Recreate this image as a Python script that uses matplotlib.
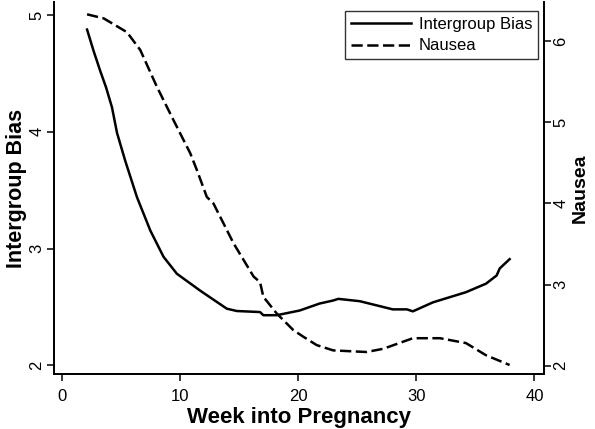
import numpy as np
import matplotlib
matplotlib.use("Agg")
import matplotlib.pyplot as plt

plt.rcParams['font.family'] = ['Liberation Sans', 'DejaVu Sans']

# intergroup bias (left axis)
bias_week = [2.09, 2.65, 3.21, 3.7, 4.2, 4.63, 5.33, 6.32, 7.45, 8.57, 9.7,
             11.68, 13.93, 14.78, 16.75, 17.03, 18.16, 20.1, 21.8, 22.95, 23.38, 25.2,
             28.0, 29.2, 29.7, 31.4, 34.2, 35.9, 36.8, 37.06, 37.9]
bias = [4.875, 4.69, 4.52, 4.38, 4.21, 3.99, 3.75, 3.44, 3.155, 2.93, 2.785,
        2.64, 2.486, 2.466, 2.457, 2.43, 2.43, 2.47, 2.53, 2.556, 2.57, 2.55,
        2.48, 2.48, 2.463, 2.54, 2.627, 2.70, 2.77, 2.83, 2.91]

# nausea (right axis)
nausea_week = [2.09, 3.5, 5.47, 6.6, 8.0, 9.4, 10.83, 11.4, 12.24, 12.8, 14.5, 16.2,
               16.75, 17.03, 18.16, 19.57, 20.4, 21.55, 22.95, 25.77, 27.2, 29.7, 32.0,
               34.2, 35.9, 37.9]
nausea = [6.33, 6.28, 6.11, 5.89, 5.44, 5.03, 4.62, 4.41, 4.08, 4.0, 3.51, 3.10,
          3.03, 2.85, 2.645, 2.44, 2.36, 2.255, 2.19, 2.17, 2.21, 2.34, 2.34,
          2.28, 2.13, 2.01]

fig = plt.figure(figsize=(5.95, 4.29), dpi=100)
ax = fig.add_axes([0.091, 0.128, 0.823, 0.867])
ax2 = ax.twinx()

l1, = ax.plot(bias_week, bias, color='black', lw=1.8, label='Intergroup Bias')
l2, = ax2.plot(nausea_week, nausea, color='black', lw=1.8, ls=(0, (4.5, 1.8)), label='Nausea')

ax.set_xlim(-0.7, 40.8)
ax.set_ylim(1.926, 5.11)
ax2.set_ylim(1.898, 6.48)

ax.set_xticks([0, 10, 20, 30, 40])
ax.set_yticks([2, 3, 4, 5])
ax2.set_yticks([2, 3, 4, 5, 6])

for a in (ax, ax2):
    a.spines['top'].set_visible(False)
    for s in a.spines.values():
        s.set_linewidth(1.3)
    a.tick_params(length=5, width=1.1, labelsize=12, pad=2)
ax.tick_params(axis='x', pad=6)
ax.tick_params(axis='y', labelrotation=90)
ax2.tick_params(axis='y', labelrotation=90)
for t in ax.get_yticklabels() + ax2.get_yticklabels():
    t.set_va('center')

ax.set_xlabel('Week into Pregnancy', fontsize=16, fontweight='bold', labelpad=2)
ax.set_ylabel('Intergroup Bias', fontsize=15.5, fontweight='bold', labelpad=2)
ax2.set_ylabel('Nausea', fontsize=14, fontweight='bold', labelpad=2)

leg = ax.legend(handles=[l1, l2], loc='upper right', fontsize=12, frameon=True,
                fancybox=False, edgecolor='black', handlelength=3.6,
                borderpad=0.35, labelspacing=0.4, handletextpad=0.5,
                borderaxespad=0, bbox_to_anchor=(0.9885, 0.9765))
leg.get_frame().set_linewidth(1.0)

fig.savefig('out.png', dpi=100)
